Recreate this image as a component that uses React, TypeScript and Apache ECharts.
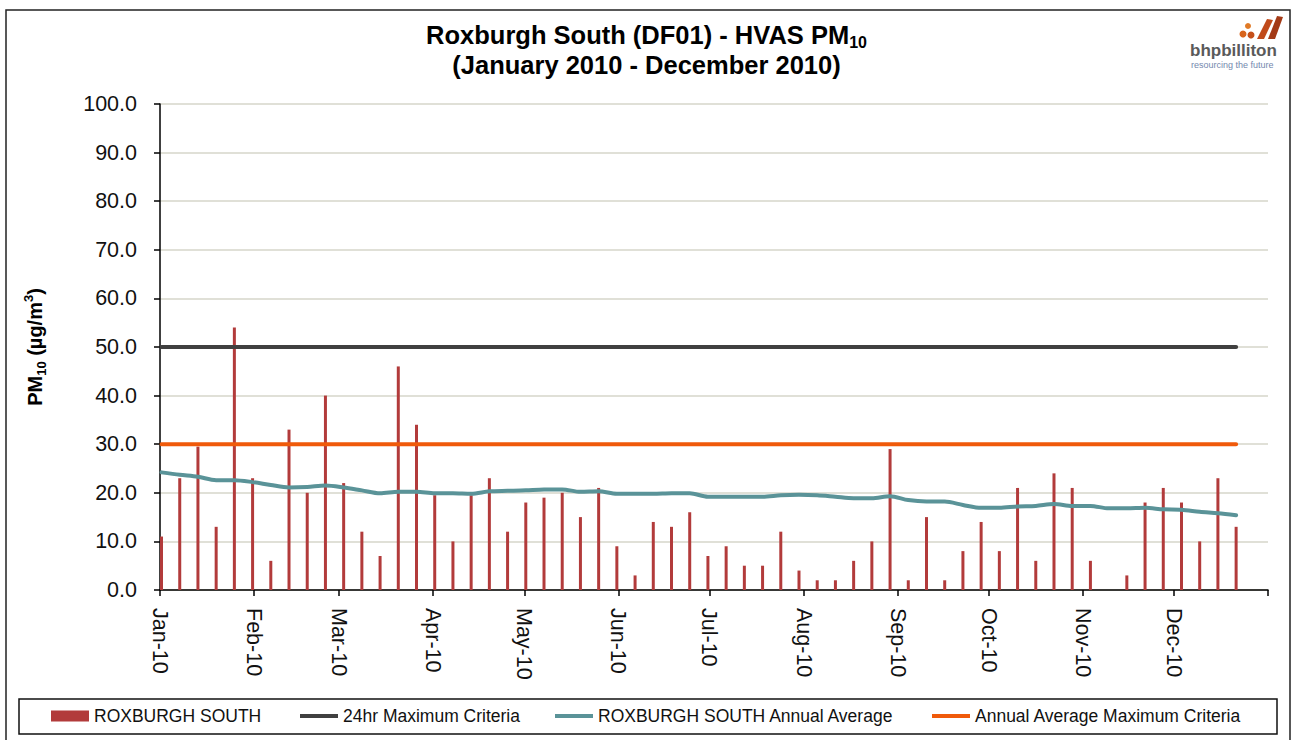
import React, { useEffect, useRef } from "react";
import * as echarts from "echarts";

const sampleDates = [
  "2010-01-01", "2010-01-07", "2010-01-13", "2010-01-19", "2010-01-25", "2010-01-31",
  "2010-02-06", "2010-02-12", "2010-02-18", "2010-02-24",
  "2010-03-02", "2010-03-08", "2010-03-14", "2010-03-20", "2010-03-26",
  "2010-04-01", "2010-04-07", "2010-04-13", "2010-04-19", "2010-04-25",
  "2010-05-01", "2010-05-07", "2010-05-13", "2010-05-19", "2010-05-25", "2010-05-31",
  "2010-06-06", "2010-06-12", "2010-06-18", "2010-06-24", "2010-06-30",
  "2010-07-06", "2010-07-12", "2010-07-18", "2010-07-24", "2010-07-30",
  "2010-08-05", "2010-08-11", "2010-08-17", "2010-08-23", "2010-08-29",
  "2010-09-04", "2010-09-10", "2010-09-16", "2010-09-22", "2010-09-28",
  "2010-10-04", "2010-10-10", "2010-10-16", "2010-10-22", "2010-10-28",
  "2010-11-03", "2010-11-09", "2010-11-15", "2010-11-21", "2010-11-27",
  "2010-12-03", "2010-12-09", "2010-12-15", "2010-12-21",
];

const pm10Values: (number | null)[] = [
  11, 23, 29.5, 13, 54, 23, 6, 33, 20, 40,
  22, 12, 7, 46, 34, 19.5, 10, 19.5, 23, 12,
  18, 19, 20, 15, 21, 9, 3, 14, 13, 16,
  7, 9, 5, 5, 12, 4, 2, 2, 6, 10,
  29, 2, 15, 2, 8, 14, 8, 21, 6, 24,
  21, 6, null, 3, 18, 21, 18, 10, 23, 13,
];

const annualAverage = [
  24.2, 23.7, 23.3, 22.6, 22.6, 22.2, 21.6, 21.1, 21.2, 21.5,
  21.1, 20.5, 19.9, 20.2, 20.2, 19.9, 19.9, 19.8, 20.3, 20.4,
  20.5, 20.7, 20.7, 20.2, 20.3, 19.8, 19.8, 19.8, 19.9, 19.9,
  19.2, 19.2, 19.2, 19.2, 19.5, 19.6, 19.5, 19.2, 18.9, 18.9,
  19.3, 18.5, 18.2, 18.2, 17.5, 16.9, 16.9, 17.2, 17.3, 17.7,
  17.3, 17.3, 16.8, 16.8, 16.9, 16.6, 16.5, 16.1, 15.8, 15.4,
];

const criteria24hr = 50;
const criteriaAnnual = 30;

const monthStarts = [
  "2010-01-01", "2010-02-01", "2010-03-01", "2010-04-01", "2010-05-01", "2010-06-01",
  "2010-07-01", "2010-08-01", "2010-09-01", "2010-10-01", "2010-11-01", "2010-12-01",
  "2011-01-01",
];
const monthLabels = [
  "Jan-10", "Feb-10", "Mar-10", "Apr-10", "May-10", "Jun-10",
  "Jul-10", "Aug-10", "Sep-10", "Oct-10", "Nov-10", "Dec-10",
];

const seriesNames = [
  "ROXBURGH SOUTH",
  "24hr Maximum Criteria",
  "ROXBURGH SOUTH Annual Average",
  "Annual Average Maximum Criteria",
];

const FONT = "'Liberation Sans', Arial, sans-serif";
const dayOf = (s: string) => Math.round((Date.parse(s) - Date.parse("2010-01-01")) / 86400000);

export default function App() {
  const ref = useRef<HTMLDivElement>(null);
  useEffect(() => {
    if (!ref.current) return;
    const chart = echarts.init(ref.current, undefined, { renderer: "svg" });
    const tickDays = monthStarts.map(dayOf);
    const labelDays = tickDays.slice(0, 12);
    const xs = sampleDates.map((d) => dayOf(d) + 0.5);

    const barData = xs
      .map((x, i) => [x, pm10Values[i]])
      .filter((p) => p[1] !== null);

    const legendCommon = {
      top: 707,
      padding: 0,
      icon: "rect",
      itemWidth: 38,
      selectedMode: false,
      textStyle: { fontFamily: FONT, fontSize: 17.5, color: "#111" },
    };

    chart.setOption({
      animation: false,
      backgroundColor: "#fff",
      title: {
        text: "{a|Roxburgh South (DF01) - HVAS PM}{s|10}\n{a|(January 2010 - December 2010)}",
        left: "center",
        top: 15,
        textStyle: {
          rich: {
            a: { fontFamily: FONT, fontSize: 25.5, fontWeight: "bold", color: "#000", lineHeight: 30 },
            s: { fontFamily: FONT, fontSize: 16, fontWeight: "bold", color: "#000", lineHeight: 16, verticalAlign: "bottom" },
          },
        },
      },
      grid: { left: 160, right: 25, top: 104, bottom: 150, containLabel: false },
      xAxis: {
        type: "value",
        min: 0,
        max: 365,
        splitLine: { show: false },
        axisLine: { show: true, lineStyle: { color: "#000", width: 1.5 } },
        axisTick: {
          show: true,
          length: 6,
          customValues: tickDays,
          lineStyle: { color: "#000", width: 1.5 },
        },
        axisLabel: {
          customValues: labelDays,
          rotate: -90,
          margin: 18,
          fontFamily: FONT,
          fontSize: 21.5,
          color: "#111",
          formatter: (v: number) => {
            const i = labelDays.indexOf(v);
            return i >= 0 ? monthLabels[i] : "";
          },
        },
      },
      yAxis: {
        type: "value",
        min: 0,
        max: 100,
        interval: 10,
        name: "{a|PM}{s|10}{a| (µg/m}{p|3}{a|)}",
        nameLocation: "middle",
        nameRotate: 90,
        nameGap: 112,
        nameTextStyle: {
          rich: {
            a: { fontFamily: FONT, fontSize: 20, fontWeight: "bold", color: "#000", lineHeight: 26 },
            s: { fontFamily: FONT, fontSize: 13, fontWeight: "bold", color: "#000", lineHeight: 13, verticalAlign: "bottom" },
            p: { fontFamily: FONT, fontSize: 13, fontWeight: "bold", color: "#000", lineHeight: 13, verticalAlign: "top" },
          },
        },
        axisLine: { show: true, lineStyle: { color: "#000", width: 1.5 } },
        axisTick: { show: true, length: 6, lineStyle: { color: "#000", width: 1.5 } },
        axisLabel: {
          margin: 23,
          fontFamily: FONT,
          fontSize: 21.5,
          color: "#111",
          formatter: (v: number) => v.toFixed(1),
        },
        splitLine: { show: true, lineStyle: { color: "#D6D6CA", width: 1.5 } },
      },
      legend: [
        { ...legendCommon, left: 51, itemHeight: 11, data: [seriesNames[0]] },
        { ...legendCommon, left: 300, itemHeight: 4, data: [seriesNames[1]] },
        { ...legendCommon, left: 555, itemHeight: 4, data: [seriesNames[2]] },
        { ...legendCommon, left: 932, itemHeight: 4, data: [seriesNames[3]] },
      ],
      graphic: [
        {
          type: "rect",
          shape: { x: 6, y: 10, width: 1284, height: 745 },
          style: { fill: "none", stroke: "#222", lineWidth: 1.5 },
          silent: true,
        },
        {
          type: "rect",
          shape: { x: 19, y: 699, width: 1258, height: 35 },
          style: { fill: "none", stroke: "#111", lineWidth: 1.5 },
          silent: true,
        },
        {
          type: "group",
          left: 1190,
          top: 16,
          children: [
            { type: "circle", shape: { cx: 55, cy: 18, r: 3.5 }, style: { fill: "#D8641C" } },
            { type: "circle", shape: { cx: 60, cy: 10, r: 3 }, style: { fill: "#E07A26" } },
            { type: "circle", shape: { cx: 63, cy: 19, r: 3.5 }, style: { fill: "#C5501A" } },
            { type: "polygon", shape: { points: [[69, 23], [76, 23], [85, 4], [79, 3]] }, style: { fill: "#C04A1A" } },
            { type: "polygon", shape: { points: [[80, 23], [87, 23], [95, 1], [89, 0]] }, style: { fill: "#A33A16" } },
            {
              type: "text",
              x: 2,
              y: 26,
              style: { text: "bhpbilliton", fontFamily: FONT, fontSize: 17, fontWeight: "bold", fill: "#5a5a5a" },
            },
            {
              type: "text",
              x: 3,
              y: 44,
              style: { text: "resourcing the future", fontFamily: FONT, fontSize: 9, fill: "#7488AE" },
            },
          ],
        },
      ],
      series: [
        {
          name: seriesNames[0],
          type: "bar",
          barWidth: 3,
          itemStyle: { color: "#B23B3B" },
          data: barData,
          z: 2,
        },
        {
          name: seriesNames[1],
          type: "line",
          symbol: "none",
          lineStyle: { color: "#404040", width: 4, cap: "round" },
          itemStyle: { color: "#404040" },
          data: xs.map((x) => [x, criteria24hr]),
          z: 3,
        },
        {
          name: seriesNames[2],
          type: "line",
          symbol: "none",
          smooth: 0.3,
          lineStyle: { color: "#5A9398", width: 4, cap: "round" },
          itemStyle: { color: "#5A9398" },
          data: xs.map((x, i) => [x, annualAverage[i]]),
          z: 4,
        },
        {
          name: seriesNames[3],
          type: "line",
          symbol: "none",
          lineStyle: { color: "#F05A0A", width: 4, cap: "round" },
          itemStyle: { color: "#F05A0A" },
          data: xs.map((x) => [x, criteriaAnnual]),
          z: 3,
        },
      ],
    });
    return () => chart.dispose();
  }, []);
  return (
    <div
      ref={ref}
      style={{ position: "fixed", left: 0, top: 0, width: 1293, height: 740, background: "#fff" }}
    />
  );
}
